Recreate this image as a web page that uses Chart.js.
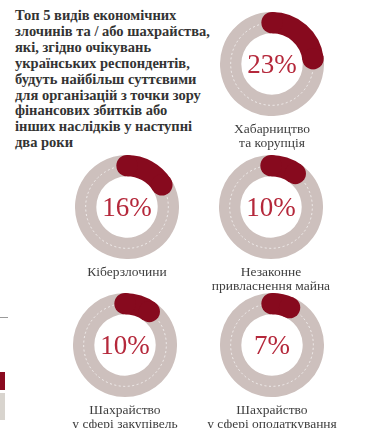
<!DOCTYPE html>
<html>
<head>
<meta charset="utf-8">
<script src="https://cdn.jsdelivr.net/npm/chart.js@4.4.1/dist/chart.umd.min.js"></script>
<style>
  html, body { margin: 0; padding: 0; background: #ffffff; }
  body { width: 382px; height: 428px; position: relative; overflow: hidden; }
  #title { position: absolute; left: 15px; top: 8px; font-family: "Liberation Serif", serif; font-weight: bold;
           font-size: 14.5px; line-height: 15.9px; color: #333333; white-space: nowrap; }
  .blk { position: absolute; width: 104px; height: 104px; }
  .blk canvas { position: absolute; left: 0; top: 0; }
  .pct { position: absolute; left: -20px; width: 144px; top: 36px; text-align: center;
         font-family: "Liberation Serif", serif; font-size: 27px; line-height: 32px; color: #b5283b; }
  .lbl { position: absolute; left: -48px; width: 200px; top: 110px; text-align: center;
         font-family: "Liberation Serif", serif; font-size: 13.5px; line-height: 14px; color: #3e3e3e; white-space: nowrap; }
  .frag { position: absolute; left: 0; }
</style>
</head>
<body>
<div id="title"></div>
<div class="frag" style="top:372px;width:5px;height:18px;background:#8a0a1f;"></div>
<div class="frag" style="top:393px;width:5px;height:27px;background:#d8d4ce;"></div>
<div class="frag" style="top:317px;width:8px;height:1px;background:#9a9a9a;"></div>
<div id="wrap"></div>
<script>
// ---- data ----
const titleLines = [
  'Топ 5 видів економічних',
  'злочинів та / або шахрайства,',
  'які, згідно очікувань',
  'українських респондентів,',
  'будуть найбільш суттєвими',
  'для організацій з точки зору',
  'фінансових збитків або',
  'інших наслідків у наступні',
  'два роки'
];
const categories = [
  ['Хабарництво', 'та корупція'],
  ['Кіберзлочини'],
  ['Незаконне', 'привласнення майна'],
  ['Шахрайство', 'у сфері закупівель'],
  ['Шахрайство', 'у сфері оподаткування']
];
const values = [23, 16, 10, 10, 7];

// ---- layout (centres of each ring) ----
const centres = [[272, 64], [127, 207], [271, 207], [125, 345], [272, 345]];
const DARK = '#870a1e';
const TRACK = '#cdc0bd';

document.getElementById('title').innerHTML = titleLines.join('<br>');

const capPlugin = {
  id: 'caps',
  afterDatasetsDraw(chart) {
    const meta = chart.getDatasetMeta(0);
    const el = meta.data[0];
    const p = el.getProps(['x', 'y', 'startAngle', 'endAngle', 'innerRadius', 'outerRadius'], true);
    const mid = (p.innerRadius + p.outerRadius) / 2;
    const w = p.outerRadius - p.innerRadius;
    const ctx = chart.ctx;
    ctx.save();
    ctx.setLineDash([2, 2.5]);
    ctx.lineWidth = 0.8;
    ctx.strokeStyle = 'rgba(255,255,255,0.85)';
    ctx.beginPath();
    ctx.arc(p.x, p.y, mid, p.endAngle, p.startAngle + Math.PI * 2);
    ctx.stroke();
    ctx.setLineDash([]);
    ctx.fillStyle = DARK;
    [p.startAngle, p.endAngle].forEach(a => {
      ctx.beginPath();
      ctx.arc(p.x + mid * Math.cos(a), p.y + mid * Math.sin(a), w / 2, 0, Math.PI * 2);
      ctx.fill();
    });
    ctx.restore();
  }
};

const wrap = document.getElementById('wrap');
values.forEach((v, i) => {
  const blk = document.createElement('div');
  blk.className = 'blk';
  blk.style.left = (centres[i][0] - 52) + 'px';
  blk.style.top = (centres[i][1] - 52) + 'px';
  const cv = document.createElement('canvas');
  cv.width = 104; cv.height = 104;
  cv.style.width = '104px'; cv.style.height = '104px';
  blk.appendChild(cv);
  const pct = document.createElement('div');
  pct.className = 'pct';
  pct.textContent = v + '%';
  blk.appendChild(pct);
  const lbl = document.createElement('div');
  lbl.className = 'lbl';
  lbl.innerHTML = categories[i].join('<br>');
  blk.appendChild(lbl);
  wrap.appendChild(blk);

  new Chart(cv.getContext('2d'), {
    type: 'doughnut',
    data: {
      labels: [categories[i].join(' '), ''],
      datasets: [{
        data: [v, 100 - v],
        backgroundColor: [DARK, TRACK],
        borderWidth: 0,
        hoverBorderWidth: 0,
        offset: 0,
        hoverOffset: 0
      }]
    },
    options: {
      responsive: false,
      animation: false,
      events: [],
      cutout: '59%',
      layout: { padding: 0 },
      plugins: { legend: { display: false }, tooltip: { enabled: false } }
    },
    plugins: [capPlugin]
  });
});
</script>
</body>
</html>
